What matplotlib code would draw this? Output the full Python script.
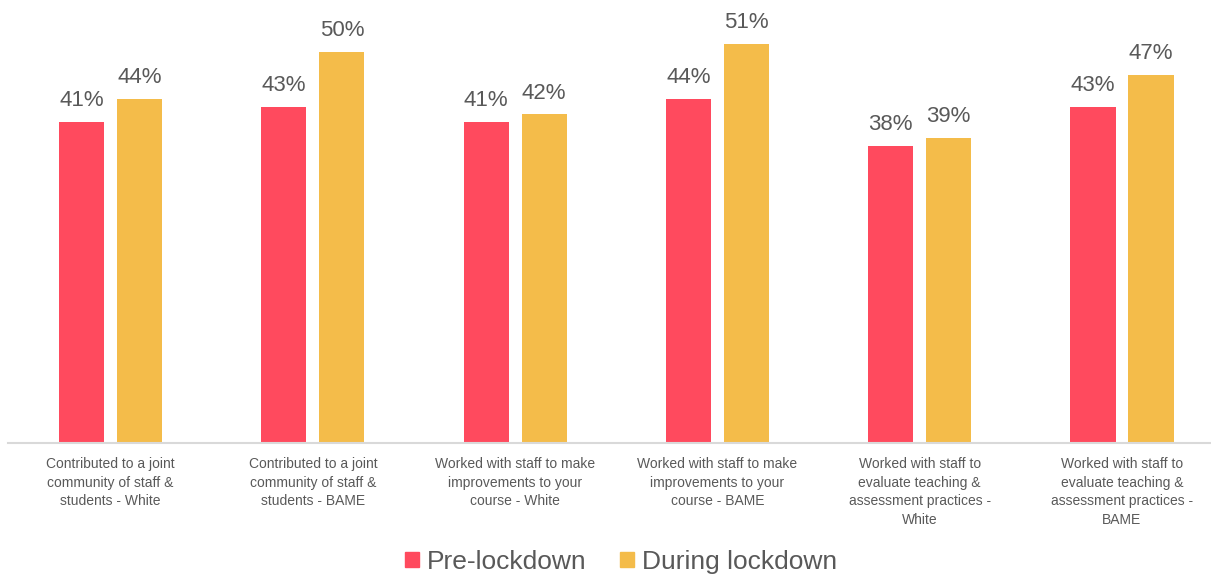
import matplotlib.pyplot as plt
import numpy as np
from matplotlib.patches import Patch

plt.rcParams['font.family'] = ['Liberation Sans', 'DejaVu Sans']

categories = [
    "Contributed to a joint\ncommunity of staff &\nstudents - White",
    "Contributed to a joint\ncommunity of staff &\nstudents - BAME",
    "Worked with staff to make\nimprovements to your\ncourse - White",
    "Worked with staff to make\nimprovements to your\ncourse - BAME",
    "Worked with staff to\nevaluate teaching &\nassessment practices -\nWhite",
    "Worked with staff to\nevaluate teaching &\nassessment practices -\nBAME",
]
pre_lockdown = [41, 43, 41, 44, 38, 43]
during_lockdown = [44, 50, 42, 51, 39, 47]
series_names = ["Pre-lockdown", "During lockdown"]

red = "#FF4A5E"
yellow = "#F4BC4A"
grey = "#595959"

fig = plt.figure(figsize=(12.11, 5.77), dpi=100)
ax = fig.add_axes([8 / 1211, 0.2322, 1 - 8 / 1211, 0.7619])

x = np.arange(len(categories))
width = 0.223
offset = 0.1436

bars1 = ax.bar(x - offset, pre_lockdown, width, color=red)
bars2 = ax.bar(x + offset, during_lockdown, width, color=yellow)

# percentage labels above each bar
for bars, vals in [(bars1, pre_lockdown), (bars2, during_lockdown)]:
    for b, v in zip(bars, vals):
        ax.annotate(f"{v}%", (b.get_x() + b.get_width() / 2, v),
                    xytext=(0, 11.5), textcoords="offset points",
                    ha="center", va="baseline", fontsize=16, color=grey)

ax.set_xlim(-0.507, 5.44)
ax.set_ylim(0, 56.2)

for s in ["top", "right", "left"]:
    ax.spines[s].set_visible(False)
ax.spines["bottom"].set_color("#D9D9D9")
ax.spines["bottom"].set_linewidth(1.5)

ax.set_yticks([])
ax.set_xticks(x)
ax.set_xticklabels(categories, fontsize=10, color=grey, linespacing=1.43)
ax.tick_params(axis="x", length=0, pad=10)

handles = [Patch(color=red), Patch(color=yellow)]
fig.legend(handles, series_names, loc="center", bbox_to_anchor=(621 / 1211, 1 - 562 / 577),
           ncol=2, frameon=False, fontsize=19, handlelength=0.53, handleheight=0.53,
           handletextpad=0.28, columnspacing=1.3, labelcolor=grey,
           borderpad=0, borderaxespad=0)

fig.savefig("out.png", dpi=100)
